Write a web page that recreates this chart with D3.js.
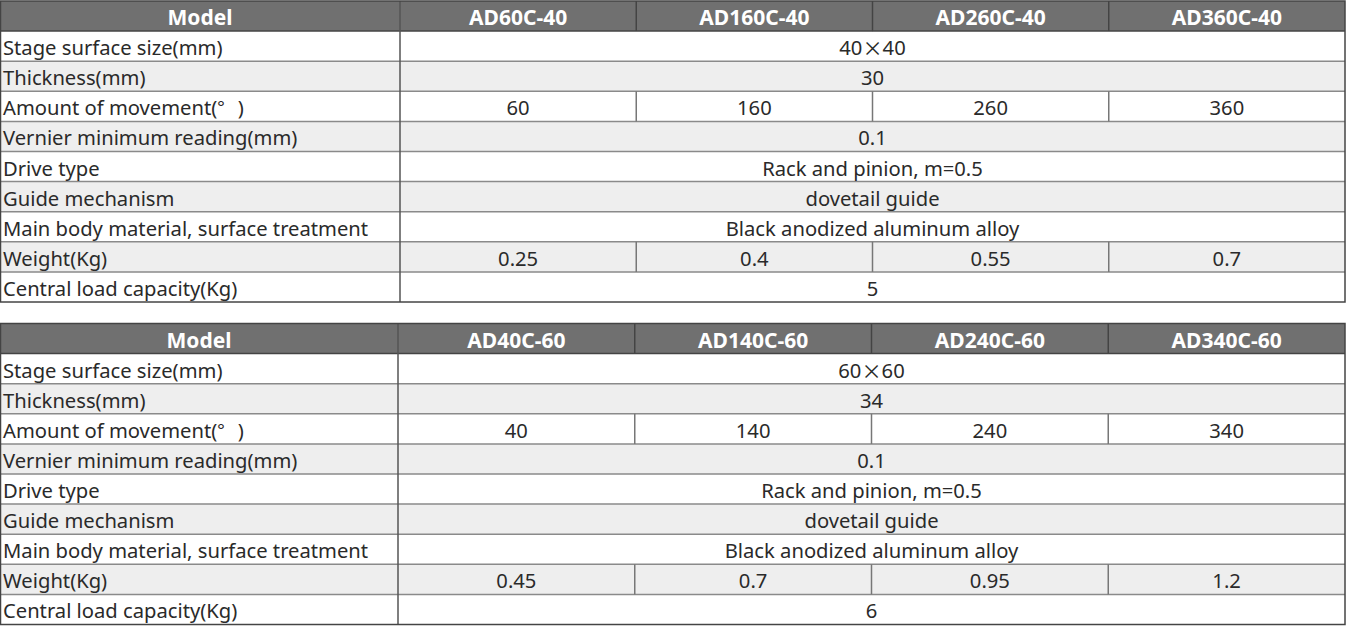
<!DOCTYPE html>
<html>
<head>
<meta charset="utf-8">
<script src="https://cdn.jsdelivr.net/npm/d3@7"></script>
<style>
  body { margin: 0; background: #fff; }
  svg { display: block; }
</style>
</head>
<body>
<svg id="chart"></svg>
<script>
// spec rows shared by both tables
const rowLabels = ["Stage surface size(mm)", "Thickness(mm)", "Amount of movement(°)",
  "Vernier minimum reading(mm)", "Drive type", "Guide mechanism",
  "Main body material, surface treatment", "Weight(Kg)", "Central load capacity(Kg)"];

const models1 = ["AD60C-40", "AD160C-40", "AD260C-40", "AD360C-40"];
const models2 = ["AD40C-60", "AD140C-60", "AD240C-60", "AD340C-60"];

// a string = merged across all models, an array = one value per model
const values1 = ["40×40", "30", ["60", "160", "260", "360"], "0.1", "Rack and pinion, m=0.5",
  "dovetail guide", "Black anodized aluminum alloy", ["0.25", "0.4", "0.55", "0.7"], "5"];
const values2 = ["60×60", "34", ["40", "140", "240", "340"], "0.1", "Rack and pinion, m=0.5",
  "dovetail guide", "Black anodized aluminum alloy", ["0.45", "0.7", "0.95", "1.2"], "6"];

const W = 1349, H = 629;
const svg = d3.select("#chart").attr("width", W).attr("height", H);
const font = "'Noto Sans', sans-serif";
const cjk = "'Noto Sans CJK SC', sans-serif";

// × and ° are set in the CJK font so they come out full width like the original
function setText(sel) {
  sel.each(function(d) {
    const t = typeof d === "string" ? d : d.t;
    const el = d3.select(this);
    let prev = "";
    t.split(/([×°])/).filter(s => s !== "").forEach(part => {
      const sp = el.append("tspan").text(part);
      if (part === "×" || part === "°") sp.attr("font-family", cjk);
      if (prev === "°") sp.attr("dx", 13); // full-width degree slot
      prev = part;
    });
  });
}

function drawTable(models, values, top, splitX) {
  const g = svg.append("g");
  const y = d3.scaleBand().domain(["Model"].concat(rowLabels)).range([top, top + 301]);
  const x = d3.scaleBand().domain(models).range([splitX, 1345]);
  const left = 0.5, right = 1345;

  // row backgrounds
  g.selectAll("rect.row").data(["Model"].concat(rowLabels)).enter().append("rect")
    .attr("x", left).attr("y", d => y(d)).attr("width", right - left).attr("height", y.bandwidth())
    .attr("fill", (d, i) => i === 0 ? "#707070" : (i % 2 === 0 ? "#eeeeee" : "#ffffff"));

  // horizontal lines
  g.selectAll("line.h").data(rowLabels).enter().append("line")
    .attr("x1", left).attr("x2", right).attr("y1", d => y(d)).attr("y2", d => y(d))
    .attr("stroke", (d, i) => i === 0 ? "#444" : "#8a8a8a").attr("stroke-width", 1.5);

  // vertical lines: label column edge, and between models where values are split
  g.append("line").attr("x1", splitX).attr("x2", splitX).attr("y1", top).attr("y2", top + 301)
    .attr("stroke", "#555").attr("stroke-width", 1.5);
  models.slice(1).forEach(m => {
    g.append("line").attr("x1", x(m)).attr("x2", x(m)).attr("y1", top).attr("y2", y(rowLabels[0]))
      .attr("stroke", "#444").attr("stroke-width", 1.5);
    values.forEach((v, i) => {
      if (Array.isArray(v)) {
        g.append("line").attr("x1", x(m)).attr("x2", x(m))
          .attr("y1", y(rowLabels[i])).attr("y2", y(rowLabels[i]) + y.bandwidth())
          .attr("stroke", "#777").attr("stroke-width", 1.5);
      }
    });
  });

  // outer border
  g.append("rect").attr("x", left).attr("y", top).attr("width", right - left).attr("height", 301)
    .attr("fill", "none").attr("stroke", "#444").attr("stroke-width", 1.5);

  // header text
  const hy = y("Model") + y.bandwidth() / 2 + 1;
  const head = [{t: "Model", cx: splitX / 2}].concat(models.map(m => ({t: m, cx: x(m) + x.bandwidth() / 2})));
  g.selectAll(null).data(head).enter().append("text")
    .attr("x", d => d.cx).attr("y", hy).text(d => d.t)
    .attr("text-anchor", "middle").attr("dominant-baseline", "central")
    .attr("fill", "#fff").attr("font-weight", "bold").attr("font-size", 21).attr("font-family", font);

  // row labels
  g.selectAll(null).data(rowLabels).enter().append("text")
    .attr("x", 3).attr("y", d => y(d) + y.bandwidth() / 2 + 1)
    .attr("dominant-baseline", "central").attr("font-size", 20.2).attr("font-family", font)
    .attr("fill", "#2a2a2a").call(setText);

  // values
  values.forEach((v, i) => {
    const cy = y(rowLabels[i]) + y.bandwidth() / 2 + 1;
    const cells = Array.isArray(v) ? v.map((t, j) => ({t: t, cx: x(models[j]) + x.bandwidth() / 2}))
      : [{t: v, cx: (splitX + right) / 2}];
    g.selectAll(null).data(cells).enter().append("text")
      .attr("x", d => d.cx).attr("y", cy).attr("text-anchor", "middle")
      .attr("dominant-baseline", "central").attr("font-size", 20.2).attr("font-family", font)
      .attr("fill", "#2a2a2a").call(setText);
  });
}

drawTable(models1, values1, 1, 400);
drawTable(models2, values2, 323.5, 398);
</script>
</body>
</html>
